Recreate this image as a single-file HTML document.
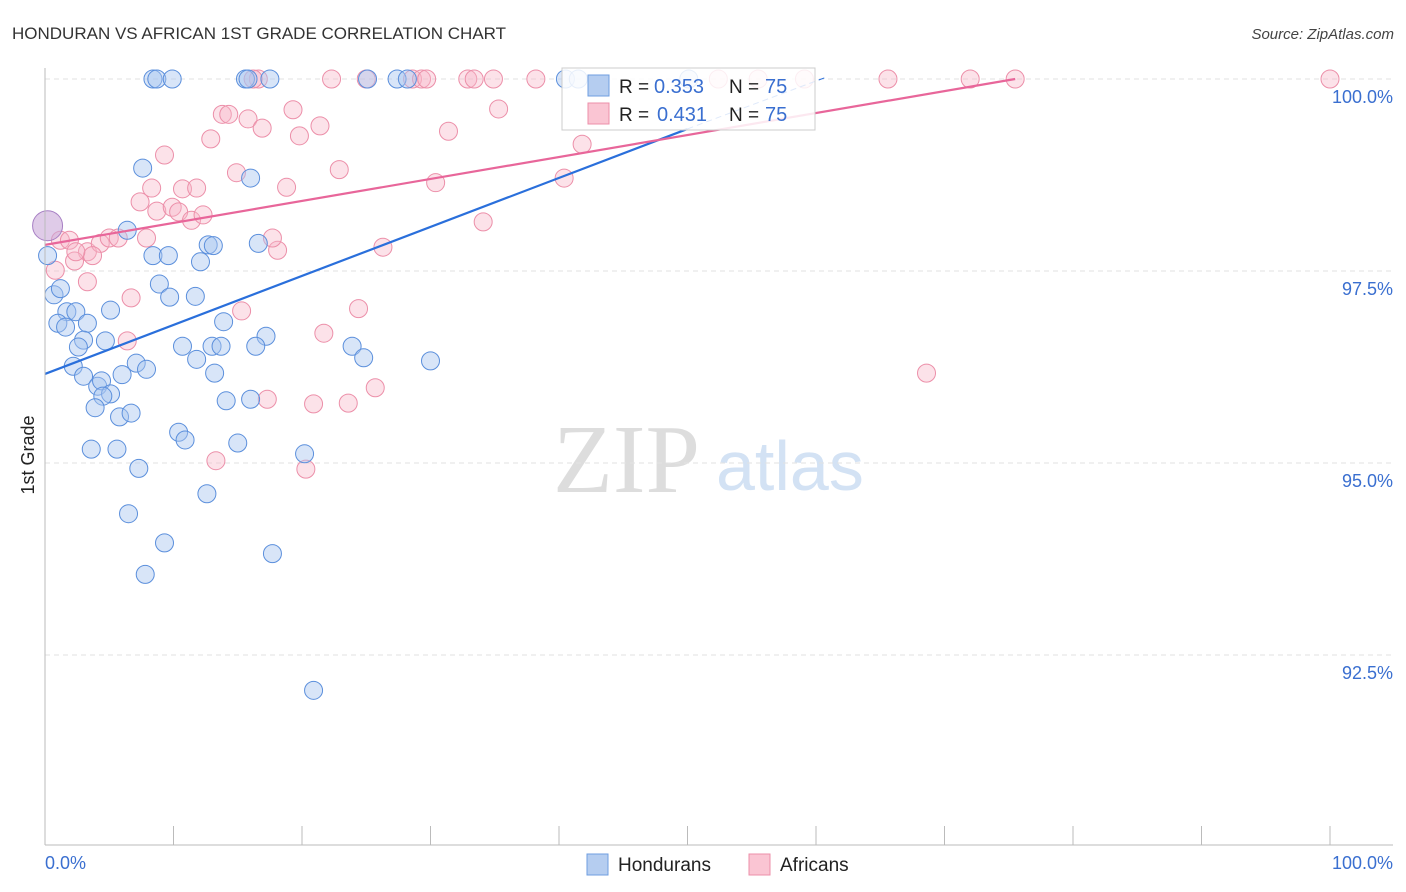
<!DOCTYPE html>
<html><head><meta charset="utf-8"><style>
body{margin:0;background:#fff;font-family:"Liberation Sans",sans-serif}
svg{display:block}
</style></head><body>
<svg id="c" width="1406" height="892">
<text x="12" y="39" font-size="17" fill="#333">HONDURAN VS AFRICAN 1ST GRADE CORRELATION CHART</text>
<text x="1394" y="39" font-size="15" fill="#444" font-style="italic" text-anchor="end">Source: ZipAtlas.com</text>
<text transform="translate(34,455) rotate(-90)" font-size="18" fill="#222" text-anchor="middle">1st Grade</text>
<text x="553" y="492" font-size="98" fill="#ddd" font-family="Liberation Serif,serif">ZIP</text>
<text x="716" y="490" font-size="70" fill="#d3e2f4">atlas</text>
<g id="grid"></g><g id="pts"></g><g id="lines"></g>
<line x1="45" y1="68" x2="45" y2="845" stroke="#bbb"/>
<line x1="45" y1="845" x2="1393" y2="845" stroke="#bbb"/>
<text x="45" y="869" font-size="18" fill="#3a6fd0">0.0%</text>
<text x="1393" y="869" font-size="18" fill="#3a6fd0" text-anchor="end">100.0%</text>
<g>
<rect x="562" y="68" width="253" height="62" fill="#fff" fill-opacity="0.85" stroke="#ccc"/>
<rect x="588" y="75" width="21" height="21" fill="#b5cdf0" stroke="#6f9ee0"/>
<rect x="588" y="103" width="21" height="21" fill="#fac5d3" stroke="#ec8fa9"/>
<text x="619" y="93" font-size="19" fill="#222">R =</text>
<text x="654" y="93" font-size="20" fill="#3a6fd0">0.353</text>
<text x="729" y="93" font-size="19" fill="#222">N =</text>
<text x="765" y="93" font-size="20" fill="#3a6fd0">75</text>
<text x="619" y="121" font-size="19" fill="#222">R =</text>
<text x="657" y="121" font-size="20" fill="#3a6fd0">0.431</text>
<text x="729" y="121" font-size="19" fill="#222">N =</text>
<text x="765" y="121" font-size="20" fill="#3a6fd0">75</text>
</g>
<g>
<rect x="587" y="854" width="21" height="21" fill="#b5cdf0" stroke="#6f9ee0"/>
<text x="618" y="871" font-size="19" fill="#222">Hondurans</text>
<rect x="749" y="854" width="21" height="21" fill="#fac5d3" stroke="#ec8fa9"/>
<text x="780" y="871" font-size="19" fill="#222">Africans</text>
</g>
</svg>
<script>
const yTicks=[100,97.5,95,92.5];
const yTickLabels=["100.0%","97.5%","95.0%","92.5%"];
const xTicks=[0,10,20,30,40,50,60,70,80,90,100];
const hondX=[8.4,8.7,9.9,15.6,15.8,17.5,25.1,27.4,28.2,40.5,41.5,50.1,7.6,16.0,6.4,12.7,13.1,16.6,8.4,9.6,12.1,0.2,8.9,0.7,1.2,9.7,11.7,5.1,1.7,2.4,3.3,1.0,1.6,13.9,17.2,3.0,4.7,2.6,10.7,13.0,13.7,16.4,23.9,2.2,7.1,7.9,11.8,24.8,30.0,3.0,6.0,13.2,4.1,4.4,5.1,4.5,3.9,5.8,6.7,14.1,16.0,10.4,10.9,3.6,5.6,15.0,20.2,7.3,12.6,6.5,9.3,17.7,7.8,20.9];
const hondY=[100,100,100,100,100,100,100,100,100,100,100,100,98.84,98.71,98.03,97.84,97.83,97.86,97.70,97.70,97.62,97.70,97.33,97.19,97.27,97.16,97.17,96.99,96.97,96.97,96.82,96.82,96.77,96.84,96.65,96.60,96.59,96.51,96.52,96.52,96.52,96.52,96.52,96.26,96.30,96.22,96.35,96.37,96.33,96.13,96.15,96.17,96.00,96.07,95.90,95.87,95.72,95.60,95.65,95.81,95.83,95.40,95.30,95.18,95.18,95.26,95.12,94.93,94.60,94.34,93.96,93.82,93.55,92.04];
const afrX=[1.2,0.8,1.9,3.3,4.3,5.0,5.7,7.9,3.7,2.3,2.4,3.3,6.7,6.4,8.3,7.4,8.7,9.9,10.4,11.4,12.3,9.3,10.7,11.8,12.9,13.8,14.3,14.9,15.8,16.9,16.6,19.3,19.8,21.4,18.8,22.9,18.1,17.7,15.3,21.7,24.4,26.3,25.7,23.6,20.9,17.3,13.3,20.3,22.3,25.0,28.6,29.3,29.7,32.9,33.4,34.9,38.2,35.3,31.4,30.4,34.1,40.4,41.8,52.4,55.5,59.1,65.6,72.0,75.5,100,68.6,16.2];
const afrY=[97.90,97.51,97.90,97.75,97.86,97.93,97.93,97.93,97.70,97.63,97.75,97.36,97.15,96.59,98.58,98.40,98.28,98.33,98.27,98.16,98.23,99.01,98.57,98.58,99.22,99.54,99.54,98.78,99.48,99.36,100,99.60,99.26,99.39,98.59,98.82,97.77,97.93,96.98,96.69,97.01,97.81,95.98,95.78,95.77,95.83,95.03,94.92,100,100,100,100,100,100,100,100,100,99.61,99.32,98.65,98.14,98.71,99.15,100,100,100,100,100,100,100,96.17,100];
const bigX=[0.2], bigY=[98.09];
const hondLine=[[0,96.16],[50,99.35],[60.9,100.03]];
const afrLine=[[0,97.84],[75.5,100]];
const NS="http://www.w3.org/2000/svg";
const xs=v=>45+v*12.85, ys=v=>79+(100-v)*76.8;
function mk(t,a,p){const e=document.createElementNS(NS,t);for(const k in a)e.setAttribute(k,a[k]);p.appendChild(e);return e;}
const grid=document.getElementById('grid');
yTicks.forEach((t,i)=>{
 const l=mk('line',{x1:45,x2:1393,y1:ys(t),y2:ys(t),stroke:'#e2e2e2','stroke-dasharray':'5,4'},grid);
 
 
 const tx=mk('text',{x:1393,y:ys(t)+24,'font-size':18,fill:'#3a6fd0','text-anchor':'end'},grid);
 tx.textContent=yTickLabels[i];
 
 
});
xTicks.forEach(t=>{
 const l=mk('line',{x1:xs(t),x2:xs(t),y1:826,y2:845,stroke:'#bbb'},grid);
 
 
});
const pts=document.getElementById('pts');
afrX.forEach((x,i)=>{
 const c=mk('circle',{cx:xs(x),cy:ys(afrY[i]),r:9,fill:'#f7b6c9','fill-opacity':0.4,stroke:'#ec8fa9','stroke-width':1},pts);
 
 
});
hondX.forEach((x,i)=>{
 const c=mk('circle',{cx:xs(x),cy:ys(hondY[i]),r:9,fill:'#a9c6ef','fill-opacity':0.45,stroke:'#5b8fdc','stroke-width':1},pts);
 
 
});
bigX.forEach((x,i)=>{
 const c=mk('circle',{cx:xs(x),cy:ys(bigY[i]),r:15,fill:'#c9a9d8','fill-opacity':0.6,stroke:'#a77fc4','stroke-width':1},pts);
 
 
});
const lines=document.getElementById('lines');
let l=mk('line',{x1:xs(hondLine[0][0]),y1:ys(hondLine[0][1]),x2:xs(hondLine[1][0]),y2:ys(hondLine[1][1]),stroke:'#2a6fdb','stroke-width':2.2},lines);


l=mk('line',{x1:xs(hondLine[1][0]),y1:ys(hondLine[1][1]),x2:xs(hondLine[2][0]),y2:ys(hondLine[2][1]),stroke:'#2a6fdb','stroke-width':1,'stroke-dasharray':'6,4'},lines);


l=mk('line',{x1:xs(afrLine[0][0]),y1:ys(afrLine[0][1]),x2:xs(afrLine[1][0]),y2:ys(afrLine[1][1]),stroke:'#e8669a','stroke-width':2.2},lines);


</script>
</body></html>
